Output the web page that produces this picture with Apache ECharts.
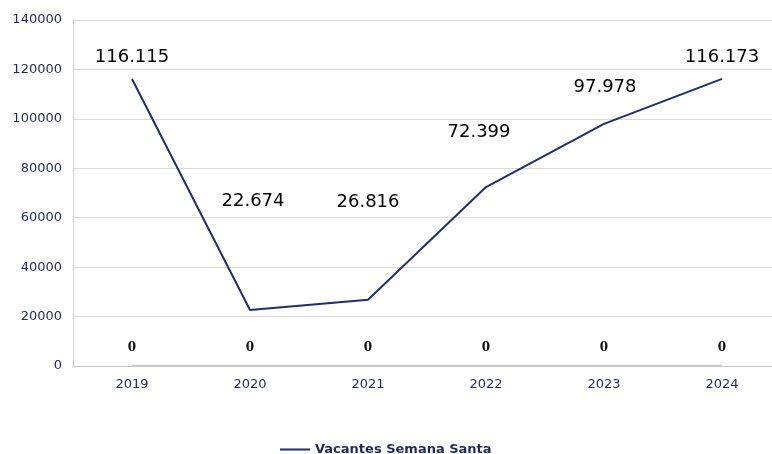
<!DOCTYPE html>
<html><head><meta charset="utf-8">
<script src="https://cdn.jsdelivr.net/npm/echarts@6/dist/echarts.min.js"></script>
<style>html,body{margin:0;padding:0;background:#fff;overflow:hidden}#c{width:781px;height:454px}</style>
</head><body><div id="c"></div>
<script>
const categories = ['2019','2020','2021','2022','2023','2024'];
const vacantes = [116115, 22674, 26816, 72399, 97978, 116173];
const zeros = [0, 0, 0, 0, 0, 0];
const yTicks = [0, 20000, 40000, 60000, 80000, 100000, 120000, 140000];
const seriesName = 'Vacantes Semana Santa';

// label placement (style only)
const labelOffsetsY = [-22, -109, -97, -55, -37, -22];
const labelOffsetsX = [0, 3, 0, -7, 1, 0];

function fmt(v){ return String(v).replace(/\B(?=(\d{3})+(?!\d))/g, '.'); }

const chart = echarts.init(document.getElementById('c'));
chart.setOption({
  animation: false,
  grid: { left: 73, right: 0, top: 20, bottom: 88 },
  legend: {
    data: [seriesName], left: 275, top: 438,
    itemWidth: 30, itemHeight: 10, itemGap: 4, icon: 'path://M0,4 L30,4 L30,6 L0,6 Z',
    textStyle: { fontFamily: 'DejaVu Sans', fontWeight: 'bold', fontSize: 13, color: '#1f2a5a' }
  },
  xAxis: {
    type: 'category', data: categories, boundaryGap: true,
    axisLine: { lineStyle: { color: '#c8c8c8', width: 1 } },
    axisTick: { show: false },
    axisLabel: { fontFamily: 'DejaVu Sans', fontSize: 13, color: '#1f2a5a', margin: 12 }
  },
  yAxis: {
    type: 'value', min: yTicks[0], max: yTicks[yTicks.length-1], interval: 20000,
    axisLine: { show: true, lineStyle: { color: '#d0d0d0' } },
    axisTick: { show: false },
    splitLine: { lineStyle: { color: '#d9d9d9' } },
    axisLabel: { fontFamily: 'DejaVu Sans', fontSize: 13, color: '#1f2a5a', margin: 11, formatter: v => String(v) }
  },
  series: [
    {
      name: 'zeros', type: 'line', data: zeros, symbol: 'circle', symbolSize: 0, showSymbol: true, z: 1,
      lineStyle: { color: '#c8c8c8', width: 2.5 },
      itemStyle: { color: '#c8c8c8' },
      label: { show: true, position: 'top', distance: 12, formatter: p => fmt(p.value),
        fontFamily: 'DejaVu Serif', fontWeight: 'bold', fontSize: 12, color: '#111' }
    },
    {
      name: seriesName, type: 'line', z: 3,
      data: vacantes.map((v, i) => ({ value: v, label: { offset: [labelOffsetsX[i], labelOffsetsY[i]] } })),
      symbol: 'circle', symbolSize: 0, showSymbol: true,
      lineStyle: { color: '#1f2f6b', width: 2 },
      itemStyle: { color: '#1f2f6b' },
      label: { show: true, position: 'inside', formatter: p => fmt(p.value),
        fontFamily: 'DejaVu Sans', fontSize: 18, color: '#000' }
    }
  ]
});
</script></body></html>
